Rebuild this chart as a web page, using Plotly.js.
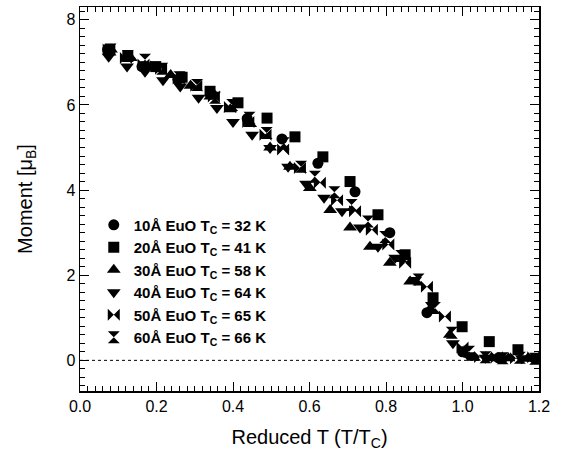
<!DOCTYPE html>
<html><head><meta charset="utf-8">
<script src="https://cdn.plot.ly/plotly-3.0.1.min.js"></script>
<style>html,body{margin:0;padding:0;background:#fff}#plot{width:568px;height:456px}</style>
</head><body><div id="plot"></div>
<script>
// 10 Å EuO (circle)
const x10 = [0.072, 0.162, 0.256, 0.345, 0.437, 0.528, 0.622, 0.719, 0.810, 0.907, 1.000, 1.094, 1.188];
const y10 = [7.30, 6.90, 6.60, 6.25, 5.68, 5.20, 4.63, 3.96, 3.00, 1.12, 0.20, 0.06, 0.05];
// 20 Å EuO (square)
const x20 = [0.078, 0.125, 0.198, 0.267, 0.340, 0.413, 0.489, 0.562, 0.635, 0.706, 0.779, 0.850, 0.923, 0.999, 1.070, 1.145];
const y20 = [7.30, 7.15, 6.90, 6.65, 6.32, 6.05, 5.69, 5.25, 4.78, 4.20, 3.42, 2.48, 1.47, 0.79, 0.44, 0.25];
// 30 Å EuO (triangle-up)
const x30 = [0.081, 0.133, 0.185, 0.237, 0.289, 0.341, 0.393, 0.445, 0.497, 0.549, 0.601, 0.654, 0.706, 0.758, 0.810, 0.863, 0.915, 0.967, 1.030, 1.075, 1.120, 1.170];
const y30 = [7.30, 7.10, 6.90, 6.70, 6.45, 6.20, 5.90, 5.55, 5.00, 4.55, 4.05, 3.53, 3.12, 2.67, 2.29, 1.85, 1.20, 0.60, 0.06, 0.05, 0.05, 0.04];
// 40 Å EuO (triangle-down)
const x40 = [0.075, 0.123, 0.170, 0.217, 0.262, 0.310, 0.358, 0.400, 0.450, 0.497, 0.544, 0.591, 0.638, 0.685, 0.732, 0.779, 0.824, 0.876, 0.920, 0.975, 1.014, 1.060, 1.110, 1.155];
const y40 = [7.13, 6.90, 6.78, 6.58, 6.43, 6.17, 5.93, 5.60, 5.30, 4.99, 4.55, 4.15, 3.82, 3.50, 3.12, 2.67, 2.41, 1.89, 1.30, 0.40, 0.12, 0.06, 0.05, 0.05];
// 50 Å EuO (bowtie)
const x50 = [0.075, 0.120, 0.166, 0.212, 0.258, 0.304, 0.350, 0.392, 0.440, 0.485, 0.531, 0.575, 0.627, 0.672, 0.719, 0.763, 0.806, 0.850, 0.907, 0.954, 1.000, 1.046, 1.090, 1.140, 1.185];
const y50 = [7.30, 7.10, 6.95, 6.85, 6.62, 6.45, 6.20, 5.95, 5.60, 5.30, 4.95, 4.52, 4.17, 3.76, 3.50, 3.07, 2.72, 2.29, 1.73, 1.03, 0.30, 0.08, 0.07, 0.05, 0.07];
// 60 Å EuO (hourglass)
const x60 = [0.080, 0.125, 0.170, 0.215, 0.260, 0.306, 0.353, 0.398, 0.443, 0.488, 0.533, 0.578, 0.614, 0.665, 0.710, 0.753, 0.798, 0.840, 0.885, 0.928, 0.972, 1.017, 1.060, 1.105, 1.150, 1.190];
const y60 = [7.30, 7.15, 7.06, 6.85, 6.65, 6.47, 6.17, 6.00, 5.70, 5.34, 5.10, 4.55, 4.31, 3.95, 3.65, 3.26, 2.90, 2.45, 1.90, 1.23, 0.65, 0.20, 0.07, 0.05, 0.06, 0.04];

const names = ["10Å EuO T<sub>C</sub> = 32 K", "20Å EuO T<sub>C</sub> = 41 K", "30Å EuO T<sub>C</sub> = 58 K",
               "40Å EuO T<sub>C</sub> = 64 K", "50Å EuO T<sub>C</sub> = 65 K", "60Å EuO T<sub>C</sub> = 66 K"];
const xs = [x10, x20, x30, x40, x50, x60];
const ys = [y10, y20, y30, y40, y50, y60];
const symbols = ["circle", "square", "triangle-up", "triangle-down", "bowtie", "hourglass"];
const sizes = [11, 11, 12, 12, 12, 12];

const traces = xs.map((x, i) => ({
  x: x, y: ys[i], type: "scatter", mode: "markers", name: names[i],
  marker: {symbol: symbols[i], size: sizes[i], color: "#000", line: {width: 0}}
}));

const font = "Liberation Sans, Arial, Helvetica, sans-serif";
const layout = {
  width: 568, height: 456,
  margin: {l: 80, r: 29, t: 7, b: 65},
  paper_bgcolor: "#fff", plot_bgcolor: "#fff",
  font: {family: font, color: "#000", size: 16},
  showlegend: true,
  legend: {x: 0.03, y: 0.475, xanchor: "left", yanchor: "top", bgcolor: "rgba(0,0,0,0)",
           font: {family: font, size: 15, weight: "bold", color: "#000"}, tracegroupgap: 0},
  xaxis: {range: [0, 1.2], tick0: 0, dtick: 0.2, tickformat: ".1f", ticks: "inside", ticklen: 9,
          tickwidth: 1, tickcolor: "#000", showline: true, linecolor: "#000", linewidth: 1.5,
          mirror: "allticks", showgrid: false, zeroline: false, automargin: "bottom",
          minor: {dtick: 0.02, ticks: "inside", ticklen: 5, tickcolor: "#000", tickwidth: 1, showgrid: false},
          tickfont: {size: 16, family: font},
          title: {text: "Reduced T (T/T<sub>C</sub>)", font: {size: 20, family: font}, standoff: 16}},
  yaxis: {range: [-0.72, 8.3], tick0: 0, dtick: 2, ticks: "inside", ticklen: 9,
          tickwidth: 1, tickcolor: "#000", showline: true, linecolor: "#000", linewidth: 1.5,
          mirror: "allticks", showgrid: false, zeroline: false, automargin: "left",
          minor: {dtick: 0.2, ticks: "inside", ticklen: 5, tickcolor: "#000", tickwidth: 1, showgrid: false},
          tickfont: {size: 16, family: font},
          title: {text: "Moment [μ<sub>B</sub>]", font: {size: 20, family: font}, standoff: 28}},
  shapes: [{type: "line", xref: "x", yref: "y", x0: 0, x1: 1.2, y0: 0, y1: 0,
            line: {color: "#000", width: 1, dash: "dot"}, layer: "below"}]
};

Plotly.newPlot("plot", traces, layout, {displayModeBar: false, staticPlot: true});
</script></body></html>
